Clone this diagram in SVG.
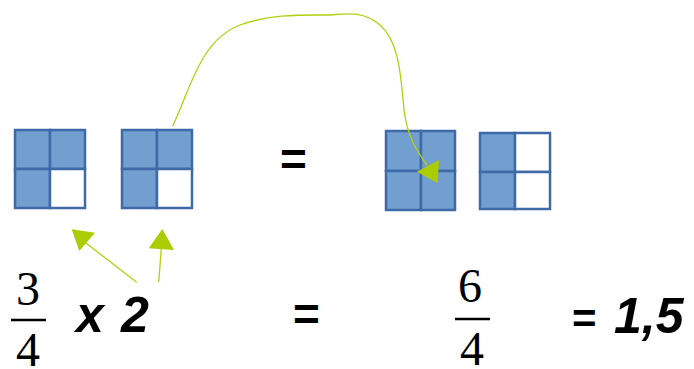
<svg xmlns="http://www.w3.org/2000/svg" width="694" height="369" viewBox="0 0 694 369">
<style>
.cell{fill:#729fcf;stroke:#3f6aa8;stroke-width:2.5}
.empty{fill:#ffffff;stroke:#3f6aa8;stroke-width:2.5}
.conn{fill:none;stroke:#b4cf10;stroke-width:1.3}
.head{fill:#aacc00}
.frac{font-family:"Liberation Serif","Times New Roman",serif;font-size:48px;fill:#000;text-anchor:middle}
.hand{font-family:"Liberation Sans",Arial,sans-serif;font-weight:bold;font-style:italic;fill:#000}
.bar{stroke:#000;stroke-width:2.5}
</style>
<rect width="694" height="369" fill="#fff"/>
<g id="square1">
<rect class="cell" x="15" y="130" width="35" height="39"/>
<rect class="cell" x="50" y="130" width="35" height="39"/>
<rect class="cell" x="15" y="169" width="35" height="39"/>
<rect class="empty" x="50" y="169" width="35" height="39"/>
</g>
<g id="square2">
<rect class="cell" x="122" y="130" width="35" height="39"/>
<rect class="cell" x="157" y="130" width="35" height="39"/>
<rect class="cell" x="122" y="169" width="35" height="39"/>
<rect class="empty" x="157" y="169" width="35" height="39"/>
</g>
<g id="square3">
<rect class="cell" x="386" y="131" width="35" height="40"/>
<rect class="cell" x="421" y="131" width="34" height="40"/>
<rect class="cell" x="386" y="171" width="35" height="39"/>
<rect class="cell" x="421" y="171" width="34" height="39"/>
</g>
<g id="square4">
<rect class="cell" x="480" y="133" width="35" height="39"/>
<rect class="empty" x="515" y="133" width="35" height="39"/>
<rect class="cell" x="480" y="172" width="35" height="37"/>
<rect class="empty" x="515" y="172" width="35" height="37"/>
</g>
<g id="connectors">
<path class="conn" d="M172.7,126 C190,90 200,40 240,25 C270,14 300,15 330,15 C345,14 362,10 380,25 C400,42 401,80 404,110 C407,135 416,150 427,165"/>
<polygon class="head" points="416.7,171.7 439,160 437.7,183.3"/>
<line class="conn" x1="136.7" y1="282.3" x2="82" y2="240"/>
<polygon class="head" points="71.7,229.3 95,232.7 79.3,251"/>
<line class="conn" x1="158.7" y1="282.3" x2="161.3" y2="249"/>
<polygon class="head" points="162.3,229 148.7,248.3 174,250"/>
</g>
<g id="frac1">
<text class="frac" x="28" y="305">3</text>
<line class="bar" x1="11" y1="320" x2="46" y2="320"/>
<text class="frac" x="28" y="366">4</text>
</g>
<g id="times2">
<text class="hand" font-size="50" x="76 97 121" y="332">x 2</text>
</g>
<g id="eq1"><text class="hand" font-size="46" x="280" y="175" style="font-style:normal">=</text></g>
<g id="eq2"><text class="hand" font-size="46" x="293" y="330" style="font-style:normal">=</text></g>
<g id="frac2">
<text class="frac" x="470" y="302">6</text>
<line class="bar" x1="455" y1="319" x2="490" y2="319"/>
<text class="frac" x="472" y="365">4</text>
</g>
<g id="result">
<text class="hand" font-size="42" x="572" y="333" style="font-style:normal">=</text>
<text class="hand" font-size="50" x="614" y="333">1,5</text>
</g>
</svg>
